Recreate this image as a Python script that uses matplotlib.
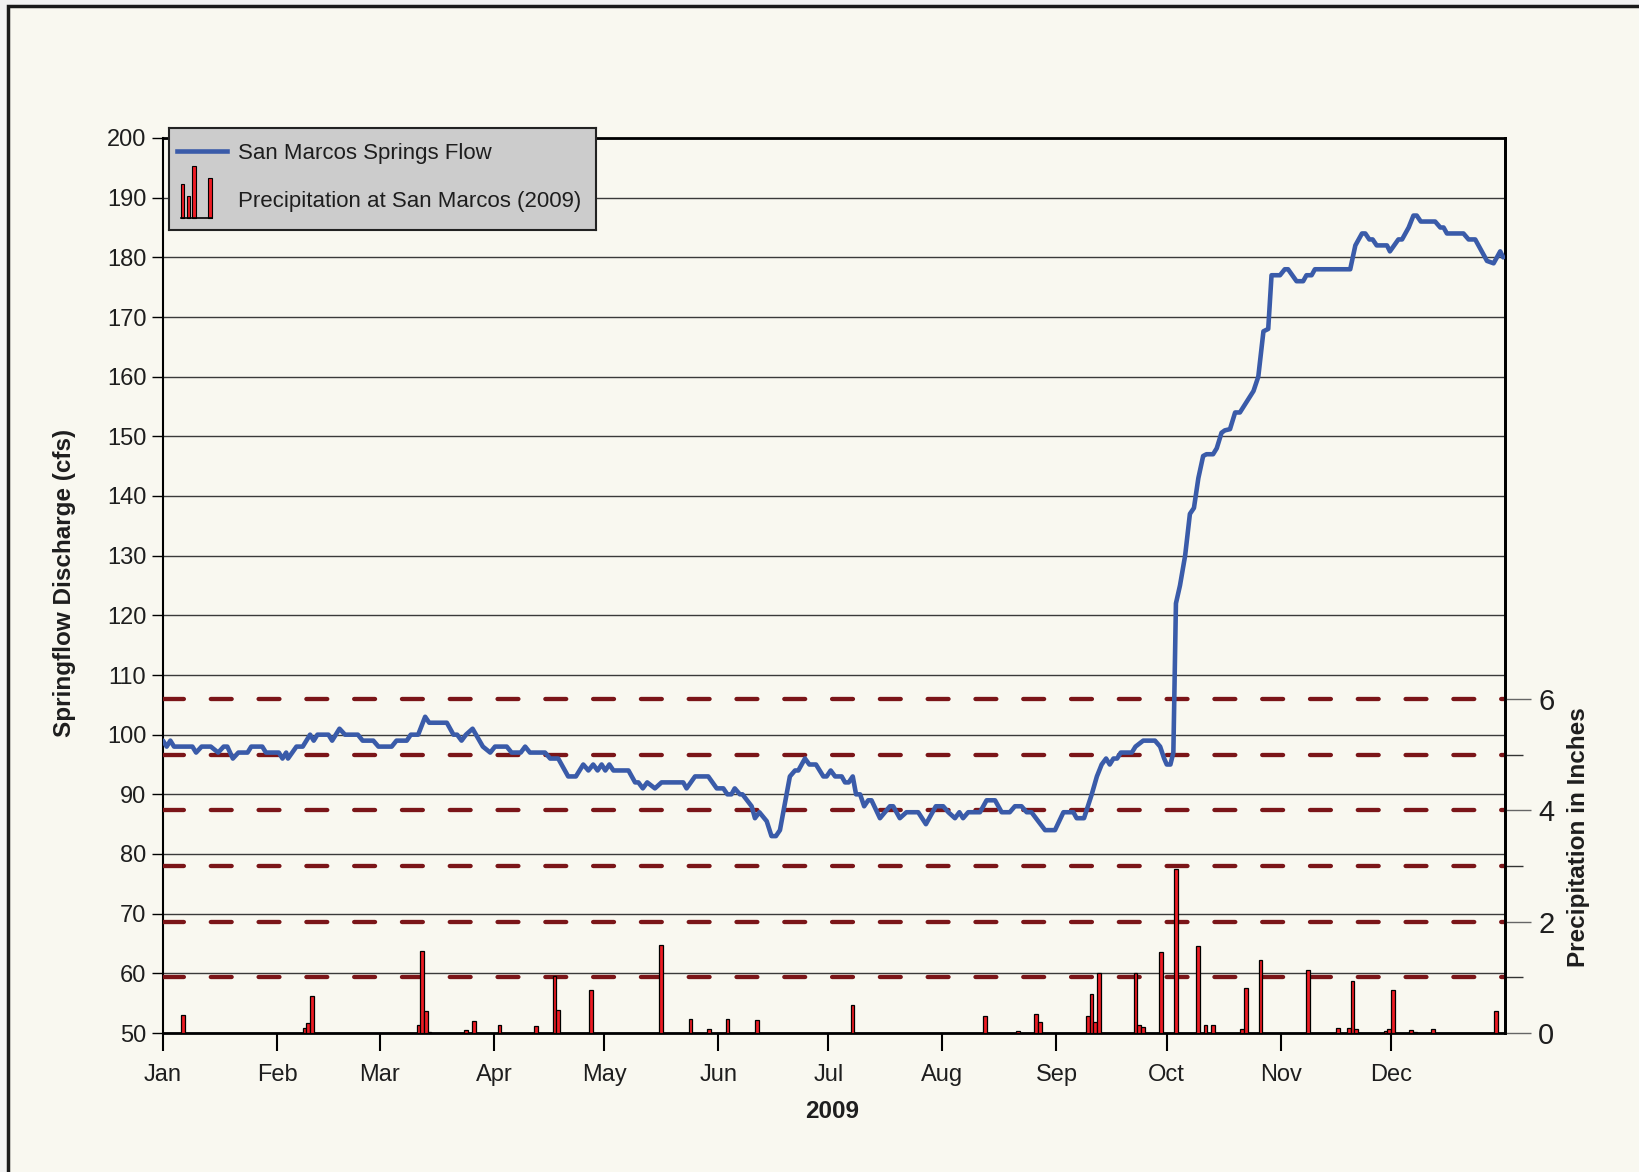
import matplotlib
matplotlib.use('Agg')
import matplotlib.pyplot as plt
import numpy as np
from matplotlib.patches import Rectangle

plt.rcParams['font.family'] = ['Liberation Sans', 'DejaVu Sans']

# ---- data, day 0 = Jan 1 2009 ----
months = ['Jan', 'Feb', 'Mar', 'Apr', 'May', 'Jun', 'Jul', 'Aug', 'Sep', 'Oct', 'Nov', 'Dec']
month_start = [0, 31, 59, 90, 120, 151, 181, 212, 243, 273, 304, 334]

flow_day = [0, 1, 2, 3, 8, 9, 10.5, 13, 15, 16.5, 17.5, 19, 20.5, 23, 24, 27, 28, 31.5, 32.5, 33.5,
            34, 36.3, 38, 40, 41, 42, 45, 46, 48, 49.5, 53, 54.3, 57.2, 58.6, 62.2, 63.5, 66.3, 67.4,
            69.4, 71.3, 72.4, 77.2, 79, 80, 81.2, 82.4, 84.2, 87, 89, 90.3, 93.5, 94.8, 97.3, 98.5,
            99.8, 103.9, 105.3, 107.5, 110.2, 112.3, 114.3, 115.7, 117, 118.2, 119.3, 120.3, 121.4,
            122.5, 126.6, 128.4, 129.3, 130.5, 131.7, 133.8, 135.6, 141.5, 142.4, 144.7, 148.3, 150.6,
            152.4, 153.5, 154.6, 155.5, 156.9, 157.6, 160.1, 161, 162.2, 164.2, 165.5, 166.7, 167.8,
            170.5, 171.9, 172.8, 174.6, 175.8, 177.6, 179.6, 180.5, 181.6, 182.8, 184.6, 185.5, 186.5,
            187.6, 188.5, 189.6, 190.7, 191.8, 192.7, 195, 197.7, 198.6, 200.4, 202.2, 205.4, 207.5,
            210.2, 212.2, 213.6, 215.4, 216.6, 217.6, 219, 222.2, 224, 226.3, 228.1, 230.3, 231.7,
            233.5, 234.9, 236.2, 239.9, 242.6, 244.9, 247.6, 248.5, 250.5, 252.6, 254, 255.3, 256.5,
            257.5, 258.5, 259.5, 260.5, 263.5, 264.5, 266.6, 269.8, 271.2, 272.3, 273, 274, 274.8,
            275.5, 276.6, 278, 279.3, 280.4, 281.6, 282.9, 283.8, 285.6, 286.6, 287.9, 288.8, 290.2,
            291.6, 292.9, 296.6, 297.9, 299.3, 300.6, 301.5, 303.8, 305.1, 306, 308.3, 310.1, 311,
            312.4, 313.3, 322.9, 324.3, 326.1, 327, 328.1, 329, 330.1, 332.9, 333.7, 336, 337, 338.8,
            340.1, 341, 342.1, 346, 347.4, 348.3, 349.2, 353.7, 355.1, 356.9, 360.1, 361.9, 363.7, 364.5]
flow_cfs = [99, 98, 99, 98, 98, 97, 98, 98, 97, 98, 98, 96, 97, 97, 98, 98, 97, 97, 96, 97,
            96, 98, 98, 100, 99, 100, 100, 99, 101, 100, 100, 99, 99, 98, 98, 99, 99, 100,
            100, 103, 102, 102, 100, 100, 99, 100, 101, 98, 97, 98, 98, 97, 97, 98,
            97, 97, 96, 96, 93, 93, 95, 94, 95, 94, 95, 94, 95,
            94, 94, 92, 92, 91, 92, 91, 92, 92, 91, 93, 93, 91,
            91, 90, 90, 91, 90, 90, 88, 86, 87, 85.5, 83, 83, 84,
            93, 94, 94, 96, 95, 95, 93, 93, 94, 93, 93, 92, 92,
            93, 90, 90, 88, 89, 89, 86, 88, 88, 86, 87, 87, 85,
            88, 88, 87, 86, 87, 86, 87, 87, 89, 89, 87, 87, 88,
            88, 87, 87, 84, 84, 87, 87, 86, 86, 90, 93, 95, 96,
            95, 96, 96, 97, 97, 98, 99, 99, 98, 96, 95, 95, 97,
            122, 125, 130, 137, 138, 143, 146.7, 147, 147, 148, 150.6, 151, 151.2,
            154, 154, 157.6, 160, 167.6, 168, 177, 177, 178, 178, 176, 176, 177,
            177, 178, 178, 182, 184, 184, 183, 183, 182, 182, 181, 183, 183, 185,
            187, 187, 186, 186, 185, 185, 184, 184, 183, 183, 179.4, 179, 181, 180]

rain_day = [5, 38, 39, 40, 69, 70, 71, 72, 82, 84, 91, 101, 106, 107, 116, 135, 143, 148, 153, 161,
            187, 223, 232, 237, 238, 251, 252, 253, 254, 264, 265, 266, 271, 275, 281, 283, 285,
            293, 294, 298, 311, 319, 322, 323, 324, 332, 333, 334, 339, 340, 345, 362]
rain_in = [0.32, 0.09, 0.18, 0.67, 0.14, 1.47, 0.39, 0.01, 0.06, 0.22, 0.14, 0.12, 1.03, 0.42, 0.78,
           1.59, 0.25, 0.07, 0.25, 0.23, 0.50, 0.30, 0.04, 0.35, 0.20, 0.30, 0.70, 0.20, 1.08, 1.07,
           0.15, 0.10, 1.45, 2.94, 1.57, 0.14, 0.14, 0.07, 0.80, 1.31, 1.13, 0.09, 0.09, 0.93, 0.07,
           0.04, 0.07, 0.78, 0.05, 0.02, 0.07, 0.40]

dash_levels = [1, 2, 3, 4, 5, 6]

CREAM = '#f9f8f0'
BLUE = '#3a5ba9'
DARKRED = '#7b1518'
RED = '#ed1c24'
TXT = '#1e1e1e'

W, H = 1639, 1172
fig = plt.figure(figsize=(W / 100, H / 100), dpi=100)
fig.patch.set_facecolor('#f2f2f2')
fig.patches.append(Rectangle((8 / W, -0.02), 1.05, 1 - 6 / H + 0.02, transform=fig.transFigure,
                             facecolor=CREAM, edgecolor='#1a1a1a', lw=2.5, zorder=-10))

ax = fig.add_axes([163 / W, 1 - 1033 / H, 1342 / W, 895 / H])
ax.set_facecolor('none')
ax.set_xlim(0, 365)
ax.set_ylim(50, 200)
ax.set_yticks(np.arange(50, 201, 10))
ax.grid(axis='y', color='#3a3a3a', lw=1.0)
ax.set_axisbelow(True)
ax.set_xticks(month_start)
ax.set_xticklabels(months)
ax.tick_params(axis='x', direction='out', length=13, width=1.5, pad=9, labelsize=17, labelcolor=TXT)
ax.tick_params(axis='y', direction='out', length=8, width=1, pad=4, labelsize=17, labelcolor=TXT)
for s in ['top', 'bottom', 'right']:
    ax.spines[s].set_linewidth(2)
ax.spines['left'].set_linewidth(1.5)

# precipitation axis
ax2 = ax.twinx()
ax2.set_ylim(0, 16.08)
ax2.set_yticks([0, 2, 4, 6])
ax2.set_yticks([1, 3, 5], minor=True)
ax2.tick_params(axis='y', which='major', length=19, width=1, color='#666666', pad=5,
                labelsize=21, labelcolor=TXT)
ax2.tick_params(axis='y', which='minor', length=13, width=1, color='#333333')
for s in ['top', 'bottom', 'left']:
    ax2.spines[s].set_visible(False)
ax2.spines['right'].set_linewidth(2)
for v in dash_levels:
    ax2.axhline(v, color=DARKRED, lw=3.1, ls=(0, (4.85, 6.25)), dash_capstyle='round', zorder=1)
ax2.bar(np.array(rain_day) + 0.5, rain_in, width=1.0, color=RED, edgecolor='black', lw=0.9, zorder=2)

# flow line on top
ax3 = ax.twinx()
ax3.set_ylim(50, 200)
ax3.set_axis_off()
ax3.plot(flow_day, flow_cfs, color=BLUE, lw=3.3, solid_joinstyle='round', solid_capstyle='round')

fig.text(65 / W, 1 - 583 / H, 'Springflow Discharge (cfs)', rotation=90, fontsize=17.5,
         fontweight='bold', ha='center', va='center', color=TXT)
fig.text(1578 / W, 1 - 837 / H, 'Precipitation in Inches', rotation=90, fontsize=17.5,
         fontweight='bold', ha='center', va='center', color=TXT)
fig.text(832 / W, 1 - 1111 / H, '2009', fontsize=17.5, fontweight='bold', ha='center', va='center', color=TXT)

# legend box
lax = fig.add_axes([169 / W, 1 - 230 / H, 427 / W, 102 / H])
lax.set_xlim(0, 427)
lax.set_ylim(102, 0)
lax.set_facecolor('#cccccc')
lax.set_xticks([])
lax.set_yticks([])
for s in lax.spines.values():
    s.set_linewidth(1.5)
    s.set_color('#222222')
lax.plot([8, 58], [22.7, 22.7], color=BLUE, lw=3.3)
lax.text(69, 25, 'San Marcos Springs Flow', fontsize=16, va='center', color=TXT)
lax.bar([12, 17.7, 23.3, 39.3], [-33.4, -22, -52, -39.4], bottom=89.7, width=3.3, align='edge',
        color=RED, edgecolor='black', lw=0.8)
lax.plot([12, 42.7], [89.7, 89.7], color='black', lw=1.2)
lax.text(69, 73, 'Precipitation at San Marcos (2009)', fontsize=16, va='center', color=TXT)

fig.savefig('out.png', dpi=100, facecolor=fig.get_facecolor())
